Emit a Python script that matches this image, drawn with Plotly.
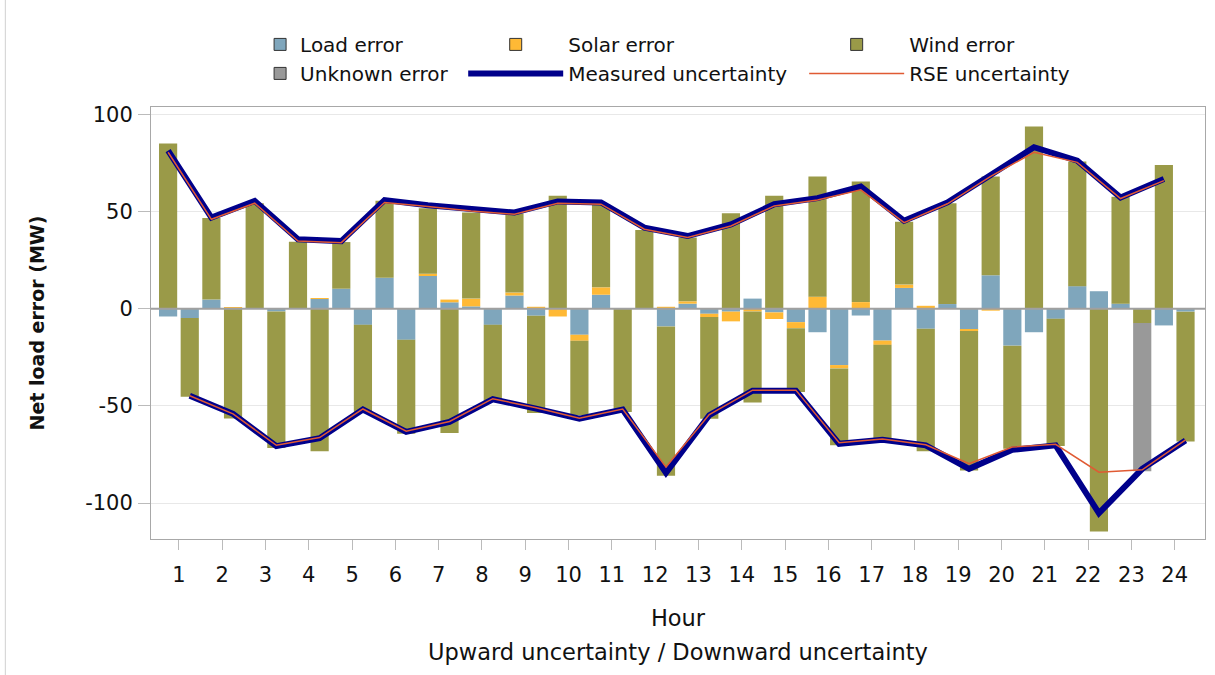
import plotly.graph_objects as go

hours = list(range(1, 25))

# Upward uncertainty bars (left bar of each hour)
load_up = [-4.0, 4.7, 0, 0, 10.3, 15.9, 17.0, 1.2, 6.8, 0, 7.2, 0,
           2.6, -1.5, -1.9, -12.1, -3.5, 10.7, 2.4, 17.2, -12.1, 11.6, 2.6, -8.6]
solar_up = [0, 0, 0, 0, 0, 0, 1.0, 4.0, 1.5, -4.0, 3.8, 0,
            1.2, -5.0, -3.4, 6.2, 3.4, 1.7, 0, -1.0, 0, 0, 0, 0]
wind_up = [85.0, 42.0, 54.3, 34.5, 24.0, 39.6, 33.7, 44.3, 40.7, 58.1, 42.8, 40.5,
           32.8, 49.1, 58.1, 61.9, 62.1, 32.4, 51.9, 50.9, 93.8, 64.1, 55.0, 74.0]
unknown_up = [0] * 24

# Downward uncertainty bars (right bar of each hour)
load_dn = [-4.8, 0, -1.4, 5.0, -8.3, -16.0, 3.3, -8.3, -3.6, -13.4, 0, -9.1,
           -2.6, 5.2, -6.9, -29.0, -16.4, -10.3, -10.9, -19.0, -5.2, 9.0, 0, -1.5]
solar_dn = [0, 0.8, 0, 0.5, 0, 0, 1.4, 0, 1.0, -3.1, 0, 1.0,
            -1.7, -1.4, -3.1, -1.7, -2.2, 1.5, -0.6, 0, 0, 0, 0, 0]
wind_dn = [-40.5, -56.5, -70.3, -73.4, -44.8, -48.3, -64.0, -39.6, -50.0, -38.3, -53.1, -76.8,
           -52.3, -46.9, -32.8, -39.6, -48.3, -63.1, -71.8, -53.1, -65.5, -114.7, -7.4, -66.8]
unknown_dn = [0] * 22 + [-76.2, 0]

# Uncertainty lines
measured_up = [81.4, 46.9, 55.5, 35.7, 34.8, 55.9, 53.3, 51.2, 49.5, 55.2, 54.7, 41.7,
               37.4, 43.4, 53.8, 56.9, 62.9, 45.2, 54.7, 68.8, 83.1, 76.2, 57.2, 66.7]
rse_up = [80.5, 46.0, 54.3, 34.8, 34.0, 54.7, 52.6, 50.3, 48.6, 54.3, 53.8, 40.9,
          36.6, 42.6, 52.9, 56.0, 61.2, 44.3, 54.0, 68.1, 80.5, 75.3, 56.7, 65.9]
measured_dn = [-44.8, -54.1, -70.7, -66.6, -51.9, -63.4, -58.3, -46.6, -51.4, -56.6, -51.9, -84.5,
               -54.8, -42.2, -42.2, -69.5, -67.4, -70.3, -82.4, -72.6, -70.3, -105.2, -82.4, -67.8]
rse_dn = [-44.8, -54.1, -70.3, -66.3, -51.6, -63.0, -58.0, -46.3, -51.0, -56.3, -51.6, -81.5,
          -54.5, -41.9, -41.9, -69.0, -67.0, -70.0, -79.8, -71.2, -69.8, -84.1, -82.9, -67.5]

y_ticks = [-100, -50, 0, 50, 100]
y_tick_text = ["-100", "-50", "0", "50", "100"]

colors = {
    "Load error": "#7FA6BC",
    "Solar error": "#FFB935",
    "Wind error": "#9A9A48",
    "Unknown error": "#999999",
}

x_up = [h - 0.25 for h in hours]
x_dn = [h + 0.25 for h in hours]
x_all = x_up + x_dn

fig = go.Figure()

series = [
    ("Load error", load_up, load_dn, "legend"),
    ("Solar error", solar_up, solar_dn, "legend2"),
    ("Wind error", wind_up, wind_dn, "legend3"),
    ("Unknown error", unknown_up, unknown_dn, "legend"),
]
for name, up, dn, _ in series:
    fig.add_trace(go.Bar(
        x=x_all, y=up + dn, width=0.42, name=name,
        marker=dict(color=colors[name], line=dict(width=0)),
        showlegend=False,
    ))

# legend-only entries for the bar series (dark outline like the reference)
for name, up, dn, lg in series:
    fig.add_trace(go.Bar(
        x=[None], y=[None], name=name, legend=lg,
        marker=dict(color=colors[name], line=dict(color="#333333", width=1)),
        showlegend=True,
    ))

fig.add_trace(go.Scatter(
    x=x_up + [None] + x_dn, y=measured_up + [None] + measured_dn,
    mode="lines", name="Measured uncertainty", legend="legend2",
    line=dict(color="#00008B", width=6), connectgaps=False,
))
fig.add_trace(go.Scatter(
    x=x_up + [None] + x_dn, y=rse_up + [None] + rse_dn,
    mode="lines", name="RSE uncertainty", legend="legend3",
    line=dict(color="#E05A33", width=1.5), connectgaps=False,
))

leg_common = dict(xanchor="left", yanchor="top", orientation="v",
                  font=dict(size=20, color="#111111"), bgcolor="rgba(0,0,0,0)",
                  tracegroupgap=0, traceorder="normal")

fig.update_layout(
    width=1215, height=675,
    margin=dict(l=151, r=10, t=107, b=136, autoexpand=False),
    paper_bgcolor="white", plot_bgcolor="white",
    barmode="relative",
    font=dict(family="DejaVu Sans", size=20, color="#222222"),
    legend=dict(x=0.1035, y=1.19, itemwidth=30, **leg_common),
    legend2=dict(x=0.2962, y=1.19, itemwidth=95, **leg_common),
    legend3=dict(x=0.6197, y=1.19, itemwidth=95, **leg_common),
    xaxis=dict(
        range=[0.355, 24.7], tickvals=hours, ticks="outside", ticklen=10,
        tickcolor="#BBBBBB", showline=True, linecolor="#A8A8A8", mirror=True,
        showgrid=False, zeroline=False, tickfont=dict(size=21, color="#111111"),
        ticklabelstandoff=7,
        title=dict(text="Hour", font=dict(size=22.5, color="#111111"), standoff=24),
    ),
    yaxis=dict(
        range=[-118.5, 103.8], tickvals=y_ticks, ticktext=y_tick_text, ticks="outside",
        ticklen=12, tickcolor="#BBBBBB", showline=True, linecolor="#A8A8A8",
        mirror=True, showgrid=True, gridcolor="#E8E8E8", zeroline=False,
        tickfont=dict(size=21, color="#111111"), ticklabelstandoff=1,
        title=dict(text="<b>Net load error (MW)</b>", font=dict(size=19, color="#111111"),
                   standoff=35),
    ),
    annotations=[
        dict(text="Upward uncertainty / Downward uncertainty", xref="paper", yref="paper",
             x=0.5, y=-0.2626, xanchor="center", yanchor="middle", showarrow=False,
             font=dict(size=22.5, color="#111111")),
    ],
    shapes=[
        dict(type="line", xref="paper", x0=0, x1=1, yref="y", y0=0, y1=0,
             line=dict(color="#A0A0A0", width=2), layer="above"),
        dict(type="line", xref="paper", x0=-0.1382, x1=-0.1382, yref="paper",
             y0=-0.32, y1=1.26, line=dict(color="#D0D0D0", width=1)),
    ],
)

fig.write_html("out.html", config={"displayModeBar": False},
               post_script="document.body.style.margin='0px';")
